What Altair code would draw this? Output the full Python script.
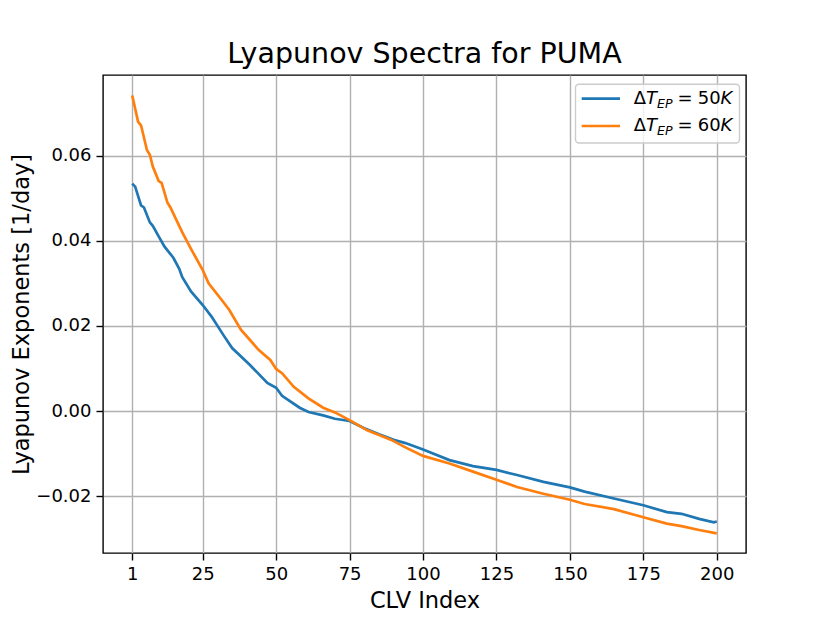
import altair as alt
import pandas as pd

# ---------------- data ----------------
title_text = "Lyapunov Spectra for PUMA"
x_title = "CLV Index"
y_title = "Lyapunov Exponents [1/day]"
x_ticks = [1, 25, 50, 75, 100, 125, 150, 175, 200]
y_ticks = [-0.02, 0.0, 0.02, 0.04, 0.06]
series_names = ["dT50", "dT60"]
series_colors = ["#1f77b4", "#ff7f0e"]

idx_50 = [1, 2, 4, 5, 7, 8, 10, 12, 15, 17, 18, 21, 25, 28, 32, 35, 41, 47, 50,
          52, 58, 61, 66, 70, 75, 80, 85, 90, 94, 100, 109, 117, 125, 132, 141,
          150, 155, 165, 175, 183, 188, 194, 199, 200]
val_50 = [0.0534, 0.0527, 0.0483, 0.0478, 0.0443, 0.0435, 0.0410, 0.0386, 0.0360,
          0.0334, 0.0315, 0.0281, 0.0249, 0.0222, 0.0179, 0.0148, 0.0109, 0.0066,
          0.0055, 0.0036, 0.0008, -0.0002, -0.0010, -0.0018, -0.0023, -0.0040,
          -0.0054, -0.0067, -0.0075, -0.0090, -0.0115, -0.0129, -0.0138, -0.0150,
          -0.0166, -0.0179, -0.0189, -0.0205, -0.0221, -0.0237, -0.0241, -0.0253,
          -0.0261, -0.0259]

idx_60 = [1, 3, 4, 6, 7, 8, 10, 11, 13, 14, 18, 21, 25, 27, 31, 34, 38, 44, 48,
          50, 52, 56, 61, 66, 70, 75, 81, 85, 89, 94, 100, 109, 117, 125, 132,
          141, 150, 155, 165, 175, 183, 188, 194, 200]
val_60 = [0.0741, 0.0679, 0.0671, 0.0613, 0.0602, 0.0574, 0.0540, 0.0536, 0.0489,
          0.0478, 0.0420, 0.0381, 0.0331, 0.0300, 0.0265, 0.0238, 0.0191, 0.0144,
          0.0120, 0.0099, 0.0089, 0.0057, 0.0030, 0.0008, -0.0003, -0.0021,
          -0.0045, -0.0056, -0.0067, -0.0085, -0.0105, -0.0123, -0.0142, -0.0161,
          -0.0178, -0.0194, -0.0208, -0.0218, -0.0230, -0.0249, -0.0264, -0.0270,
          -0.0279, -0.0287]

# legend label pieces: Delta, T, subscript EP, '=', number, K
legend_pieces = [["Δ", "T", "EP", "=", "50", "K"],
                 ["Δ", "T", "EP", "=", "60", "K"]]

# ---------------- build ----------------
FONT = "DejaVu Sans"
W, H = 643, 478

df = pd.concat([
    pd.DataFrame({"idx": idx_50, "val": val_50, "series": series_names[0]}),
    pd.DataFrame({"idx": idx_60, "val": val_60, "series": series_names[1]}),
], ignore_index=True)

lines = alt.Chart(df).mark_line(strokeWidth=2.7, interpolate="linear").encode(
    x=alt.X("idx:Q",
            scale=alt.Scale(domain=[-8.95, 209.95], nice=False, zero=False),
            axis=alt.Axis(values=x_ticks, title=x_title, format="d")),
    y=alt.Y("val:Q",
            scale=alt.Scale(domain=[-0.0333, 0.0789], nice=False, zero=False),
            axis=alt.Axis(values=y_ticks, title=y_title, format=".2f")),
    color=alt.Color("series:N",
                    scale=alt.Scale(domain=series_names, range=series_colors),
                    legend=None),
    detail="series:N",
)

one = pd.DataFrame({"k": [0]})

# chart title drawn as a text mark above the plot area
title_mark = alt.Chart(pd.DataFrame({"t": [title_text]})).mark_text(
    align="center", baseline="alphabetic", font=FONT, fontSize=28.5,
    color="black"
).encode(x=alt.value(W / 2), y=alt.value(-11.7), text="t:N")

# ----- hand-made legend (matplotlib style) -----
box = alt.Chart(one).mark_rect(
    fill="white", fillOpacity=0.8, stroke="#cccccc", strokeWidth=1.4,
    cornerRadius=3.5
).encode(x=alt.value(472.5), x2=alt.value(636.5),
         y=alt.value(9.3), y2=alt.value(68))

legend_layers = [box]
row_y = [23.7, 51.0]
text_base = [29.3, 56.0]
piece_x = [530.7, 543.0, 554.0, 574.6, 594.7, 617.6]
piece_size = [18, 18, 12.6, 18, 18, 18]
piece_style = ["normal", "italic", "italic", "normal", "normal", "italic"]
piece_dy = [0, 0, 4, 0, 0, 0]

for r in range(2):
    legend_layers.append(
        alt.Chart(one).mark_rule(color=series_colors[r], strokeWidth=2.7).encode(
            x=alt.value(478.7), x2=alt.value(517.0),
            y=alt.value(row_y[r]))
    )
    for p, txt in enumerate(legend_pieces[r]):
        legend_layers.append(
            alt.Chart(pd.DataFrame({"t": [txt]})).mark_text(
                align="left", baseline="alphabetic", font=FONT,
                fontSize=piece_size[p], fontStyle=piece_style[p], color="black"
            ).encode(x=alt.value(piece_x[p]),
                     y=alt.value(text_base[r] + piece_dy[p]),
                     text="t:N")
        )

chart = alt.layer(lines, title_mark, *legend_layers).properties(
    width=W, height=H,
    autosize=alt.AutoSizeParams(type="none"),
    padding={"left": 95, "top": 67, "right": 40, "bottom": 90},
).configure_view(
    stroke="black", strokeWidth=1.4
).configure_axis(
    domain=False,
    grid=True, gridColor="#b0b0b0", gridWidth=1.4,
    ticks=True, tickColor="black", tickWidth=1.4, tickSize=7,
    labelFont=FONT, labelFontSize=18, labelColor="black", labelPadding=5,
    titleFont=FONT, titleFontSize=22.5, titleFontWeight="normal",
    titleColor="black",
).configure_axisX(
    titlePadding=6, labelFlush=False
).configure_axisY(
    titlePadding=2
)

chart.save("out.html", embed_options={"renderer": "svg", "actions": False})
